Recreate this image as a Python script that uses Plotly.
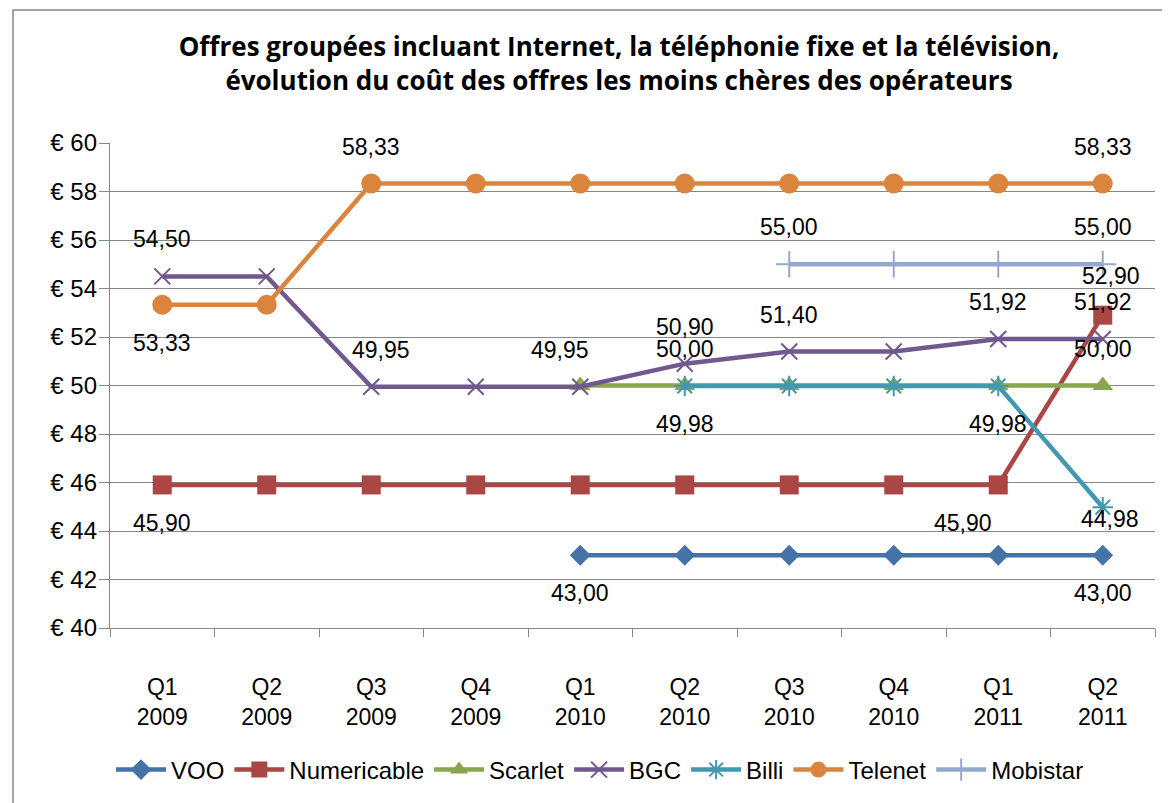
import plotly.graph_objects as go

# ---------------- data ----------------
quarters = ["Q1<br>2009", "Q2<br>2009", "Q3<br>2009", "Q4<br>2009", "Q1<br>2010",
            "Q2<br>2010", "Q3<br>2010", "Q4<br>2010", "Q1<br>2011", "Q2<br>2011"]

voo = [None, None, None, None, 43.00, 43.00, 43.00, 43.00, 43.00, 43.00]
numericable = [45.90, 45.90, 45.90, 45.90, 45.90, 45.90, 45.90, 45.90, 45.90, 52.90]
scarlet = [None, None, None, None, 50.00, 50.00, 50.00, 50.00, 50.00, 50.00]
bgc = [54.50, 54.50, 49.95, 49.95, 49.95, 50.90, 51.40, 51.40, 51.92, 51.92]
billi = [None, None, None, None, None, 49.98, 49.98, 49.98, 49.98, 44.98]
telenet = [53.33, 53.33, 58.33, 58.33, 58.33, 58.33, 58.33, 58.33, 58.33, 58.33]
mobistar = [None, None, None, None, None, None, 55.00, 55.00, 55.00, 55.00]

y_ticks = [40, 42, 44, 46, 48, 50, 52, 54, 56, 58, 60]
y_tick_labels = ["€ 40", "€ 42", "€ 44", "€ 46", "€ 48", "€ 50", "€ 52", "€ 54", "€ 56", "€ 58", "€ 60"]

# which points carry a data label (index, placement, extra x shift px, custom y shift px)
labels_voo = [(4, "below", 0, None), (9, "below", 0, None)]
labels_numericable = [(0, "below", 0, None), (8, "below", -35, None), (9, "above", 8, 39)]
labels_scarlet = [(5, "above", 0, None), (9, "above", 0, None)]
labels_bgc = [(0, "above", 0, None), (2, "above", 10, None), (4, "above", -20, None),
              (5, "above", 0, None), (6, "above", 0, None), (8, "above", 0, None), (9, "above", 0, None)]
labels_billi = [(5, "below", 0, None), (8, "below", 0, None), (9, "below", 7, -12)]
labels_telenet = [(0, "below", 0, None), (2, "above", 0, None), (9, "above", 0, None)]
labels_mobistar = [(6, "above", 0, None), (9, "above", 0, None)]

series = [
    ("VOO", voo, "#4572A7", dict(symbol="diamond", size=16), labels_voo),
    ("Numericable", numericable, "#AA4643", dict(symbol="square", size=19), labels_numericable),
    ("Scarlet", scarlet, "#89A54E", dict(symbol="triangle-up", size=18), labels_scarlet),
    ("BGC", bgc, "#71588F", dict(symbol="x-thin-open", size=16, line=dict(width=2)), labels_bgc),
    ("Billi", billi, "#4198AF", dict(symbol="asterisk-open", size=17, line=dict(width=2)), labels_billi),
    ("Telenet", telenet, "#DB843D", dict(symbol="circle", size=20), labels_telenet),
    ("Mobistar", mobistar, "#93A9CF", dict(symbol="cross-thin-open", size=19, line=dict(width=2)), labels_mobistar),
]

FONT = "Liberation Sans, Arial, sans-serif"
TITLE_FONT = "Open Sans, Liberation Sans, sans-serif"
GRID = "#878787"

fig = go.Figure()
annotations = []
for name, vals, color, mk, lbls in series:
    marker = dict(color=color, **{k: v for k, v in mk.items() if k != "line"})
    if "line" in mk:
        marker["line"] = dict(color=color, width=mk["line"]["width"])
    fig.add_trace(go.Scatter(
        x=quarters, y=vals, name=name, mode="lines+markers",
        line=dict(color=color, width=4.5),
        marker=marker, connectgaps=False,
    ))
    for idx, pos, dx, dy in lbls:
        v = vals[idx]
        shift = dy if dy is not None else (37 if pos == "above" else -38)
        annotations.append(dict(
            x=quarters[idx], y=v, xref="x", yref="y",
            text=f"{v:.2f}".replace(".", ","), showarrow=False,
            xshift=dx, yshift=shift, xanchor="center", yanchor="middle",
            font=dict(family=FONT, size=23, color="black"),
        ))

# page offset of the figure inside the html body (default 8px body margin)
OFF = 8
W, H = 1170, 803
PL, PR, PT, PB = 110, 1155, 143, 628          # plot area in page pixels
L, R, T, B = PL - OFF, W - (PR - OFF), PT - OFF, H - (PB - OFF)
pw, ph = PR - PL, PB - PT

fig.update_layout(
    width=W, height=H,
    margin=dict(l=L, r=R, t=T, b=B, autoexpand=False),
    paper_bgcolor="white", plot_bgcolor="white",
    font=dict(family=FONT, size=23, color="black"),
    title=dict(
        text="<b>Offres groupées incluant Internet, la téléphonie fixe et la télévision,</b><br>"
             "<b>évolution du coût des offres les moins chères des opérateurs</b>",
        x=(619 - OFF) / W, xref="container", xanchor="center",
        y=1 - 48 / H, yref="container", yanchor="top",
        font=dict(family=TITLE_FONT, size=26, color="black"),
    ),
    xaxis=dict(
        type="category", categoryorder="array", categoryarray=quarters,
        showgrid=False, showline=True, linecolor=GRID, linewidth=1.3,
        ticks="outside", tickson="boundaries", ticklen=8, tickcolor=GRID, tickwidth=1.3,
        ticklabelstandoff=38, range=[-0.5, 9.5], tickangle=0, automargin=False,
        tickfont=dict(family=FONT, size=23, color="black"),
    ),
    yaxis=dict(
        range=[40, 60], tickvals=y_ticks, ticktext=y_tick_labels,
        showgrid=True, gridcolor=GRID, gridwidth=1.3,
        showline=True, linecolor=GRID, linewidth=1.3,
        ticks="outside", ticklen=10, tickcolor=GRID, tickwidth=1.3,
        ticklabelstandoff=-3, zeroline=False, automargin=False,
        tickfont=dict(family=FONT, size=24, color="black"),
    ),
    legend=dict(
        orientation="h", x=(600 - PL) / pw, xref="paper", xanchor="center",
        y=(PB - 770) / ph, yanchor="middle",
        font=dict(family=FONT, size=24, color="black"),
        tracegroupgap=0, itemwidth=50,
    ),
    annotations=annotations,
    shapes=[dict(
        type="rect", xref="paper", yref="paper",
        x0=(13 - PL) / pw, x1=(1167 - PL) / pw,
        y0=(PB - 806) / ph, y1=(PB - 10) / ph,
        line=dict(color="#868686", width=1.5), fillcolor="rgba(0,0,0,0)", layer="below",
    )],
    showlegend=True,
)

fig.write_html("out.html")
